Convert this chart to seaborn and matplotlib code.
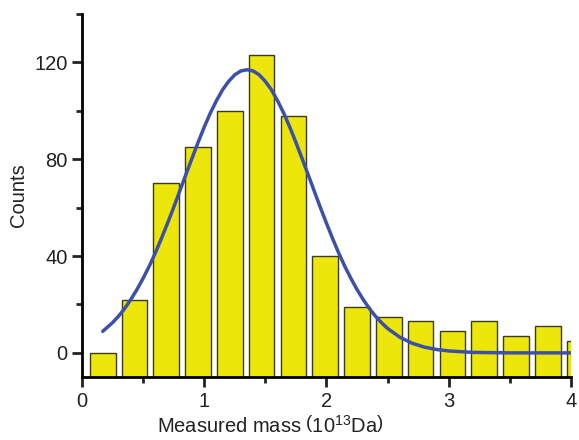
import numpy as np
import matplotlib.pyplot as plt
import seaborn as sns

# Histogram bins (mass in 10^13 Da) and counts
bin_centers = [0.17, 0.43, 0.69, 0.95, 1.21, 1.47, 1.73, 1.99,
               2.25, 2.51, 2.77, 3.03, 3.29, 3.55, 3.81, 4.07]
counts = [0, 22, 70, 85, 100, 123, 98, 40, 19, 15, 13, 9, 13, 7, 11, 5]

# Fitted curve
fit_mass = [0.17, 0.25, 0.3, 0.35, 0.4, 0.45, 0.5, 0.55, 0.6, 0.65, 0.7,
            0.75, 0.8, 0.85, 0.9, 0.95, 1.0, 1.05, 1.1, 1.15, 1.2, 1.25,
            1.3, 1.35, 1.4, 1.45, 1.5, 1.55, 1.6, 1.65, 1.7, 1.75, 1.8,
            1.85, 1.9, 1.95, 2.0, 2.05, 2.1, 2.15, 2.2, 2.25, 2.3, 2.35,
            2.4, 2.45, 2.5, 2.6, 2.7, 2.8, 2.9, 3.0, 3.2, 3.5, 4.0]
fit_counts = [8.9, 12.5, 15.2, 18.4, 22.1, 26.2, 30.8, 35.8, 41.3, 47.3,
              53.6, 60.1, 66.9, 73.7, 80.4, 87.0, 93.3, 99.1, 104.2, 108.7,
              112.2, 114.9, 116.5, 117.0, 116.5, 114.9, 112.2, 108.7, 104.2,
              99.1, 93.3, 87.0, 80.4, 73.7, 66.9, 60.1, 53.6, 47.3, 41.3,
              35.8, 30.8, 26.2, 22.1, 18.4, 15.2, 12.5, 10.1, 6.5, 4.0, 2.4,
              1.4, 0.8, 0.2, 0.0, 0.0]

sns.set_style("ticks")
plt.rcParams['font.family'] = ['Liberation Sans', 'DejaVu Sans']
plt.rcParams['mathtext.fontset'] = 'custom'
plt.rcParams['mathtext.rm'] = 'Liberation Sans'
plt.rcParams['mathtext.default'] = 'regular'

fig, ax = plt.subplots(figsize=(5.79, 4.40), dpi=100)
fig.subplots_adjust(left=0.1416, right=0.986, bottom=0.143, top=0.968)

y_floor = -10
ax.bar(bin_centers, np.array(counts) - y_floor, bottom=y_floor, width=0.21,
       color='#EDE60A', edgecolor='#3b3a1c', linewidth=1, zorder=2)

sns.lineplot(x=fit_mass, y=fit_counts, color='#3C50A8', linewidth=2.5,
             ax=ax, zorder=3)

ax.set_xlim(0, 4)
ax.set_ylim(y_floor, 140)
ax.set_xticks([0, 1, 2, 3, 4])
ax.set_xticks([0.5, 1.5, 2.5, 3.5], minor=True)
ax.set_yticks([0, 40, 80, 120])
ax.set_yticks([20, 60, 100, 140], minor=True)
ax.tick_params(which='major', direction='out', length=7, width=2,
               labelsize=14.5, colors='#222222')
ax.tick_params(which='minor', direction='out', length=4, width=2)

sns.despine(ax=ax)
for s in ['left', 'bottom']:
    ax.spines[s].set_linewidth(2)
    ax.spines[s].set_color('black')

ax.set_xlabel(r'Measured mass $\left(10^{13}\mathrm{Da}\right)$',
              fontsize=14.5, color='#222222')
ax.set_ylabel('Counts', fontsize=14.5, color='#222222')
ax.xaxis.set_label_coords(0.386, -0.105)

plt.savefig('out.png', dpi=100)
